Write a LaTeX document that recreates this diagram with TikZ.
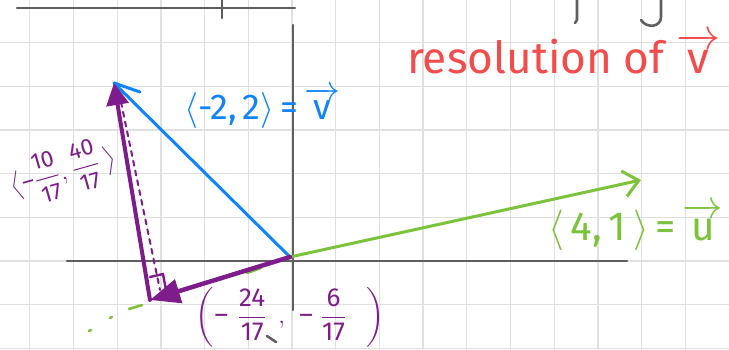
\documentclass[tikz,border=0pt]{standalone}
\usepackage{fontspec}
\usepackage{amsmath}
\setmainfont{Fira Sans}
\usetikzlibrary{arrows.meta}
\definecolor{gridc}{RGB}{224,224,224}
\definecolor{axisc}{RGB}{95,95,95}
\definecolor{vblue}{RGB}{16,132,255}
\definecolor{ugreen}{RGB}{124,194,58}
\definecolor{ppurple}{RGB}{125,28,138}
\definecolor{rred}{RGB}{242,76,76}
\newcommand\myvec[1]{\ensuremath{\overrightarrow{\text{#1}}}}
\newcommand\mneg{\text{–}}
\tikzset{
  gridline/.style={gridc, line width=1.3pt},
  axisline/.style={axisc, line width=2.2pt},
  penline/.style={axisc, line width=2.6pt},
  lbl/.style={inner sep=0pt, anchor=base west},
}
\begin{document}
\begin{tikzpicture}[x=1pt,y=-1pt, line cap=round, line join=round]
\useasboundingbox (0,0) rectangle (729,349);
\fill[white] (0,0) rectangle (729,349);
% grid
\foreach \k in {-6,...,9} \draw[gridline] ({292+43.7*\k},0) -- ({292+43.7*\k},349);
\foreach \k in {-5,...,2} \draw[gridline] (0,{261+43.7*\k}) -- (729,{261+43.7*\k});
% fragments of earlier writing
\draw[penline] (17,8) -- (295,8);
\draw[penline] (222,0) -- (222,18);
\draw[penline] (577,0) -- (577,20) -- (575,23);
\draw[penline] (661,0) -- (661,17) .. controls (661,27) and (647,29) .. (641,20);
\draw[penline] (267,336) -- (276,342);
% axes
\draw[axisline] (67,261) -- (627,261);
\draw[axisline] (293,25) -- (293,310);
% points
\coordinate (O) at (290,257);
\coordinate (V) at (114,83);
\coordinate (U) at (641,180);
\coordinate (P) at (150,300);
% green dotted continuation of u
\draw[ugreen, line width=2.6pt] (247,273) -- (261,268);
\draw[ugreen, line width=2.6pt] (129,309) -- (142,305);
\draw[ugreen, line width=2.6pt] (110,318) -- (112,317);
\draw[ugreen, line width=2.6pt] (89,331) -- (91,330);
% vectors
\draw[ugreen, line width=3pt, -{Straight Barb[length=15pt,width=26pt]}] (O) -- (U);
\draw[vblue, line width=3pt] (O) -- (V);
\draw[vblue, line width=3pt] (V) -- ++(26,9);
\draw[ppurple, line width=2pt, dash pattern=on 5pt off 5pt] (121,102) -- (160,290);
\draw[ppurple, line width=4pt, -{Triangle[length=22pt,width=22pt]}] (P) -- (V);
\draw[ppurple, line width=4.5pt, -{Triangle[length=30pt,width=24pt]}] (O) -- (P);
\draw[ppurple, line width=2.4pt] (150,277) -- (163,274) -- (166,290);
% labels
\node[lbl, rred] (res) at (407,73) {\resizebox{313pt}{!}{resolution of \myvec{v}}};
\node[lbl, vblue] (vlab) at (184,119) {\resizebox{156pt}{!}{$\langle$-2,\,2$\rangle$\,=\,\myvec{v}}};
\node[lbl, ugreen] (ulab) at (548,240) {\resizebox{175pt}{!}{$\langle$\,4,\,1\,$\rangle$\,=\,\myvec{u}}};
\node[ppurple, inner sep=0pt, rotate=16] (perp) at (63,172) {\fontsize{23}{26}\selectfont$\bigl\langle\mneg\hspace{1pt}\dfrac{\text{10}}{\text{17}}\hspace{1pt},\hspace{2pt}\dfrac{\text{40}}{\text{17}}\hspace{5pt}\bigr\rangle$};
\node[ppurple, inner sep=0pt, anchor=west] (proj) at (195,317) {\fontsize{26}{30}\selectfont$\left(\hspace{1pt}\mneg\hspace{10pt}\dfrac{\text{24}}{\text{17}}\hspace{12pt},\hspace{10pt}\mneg\hspace{8pt}\dfrac{\text{6}}{\text{17}}\hspace{20pt}\right)$};
\end{tikzpicture}
\end{document}
